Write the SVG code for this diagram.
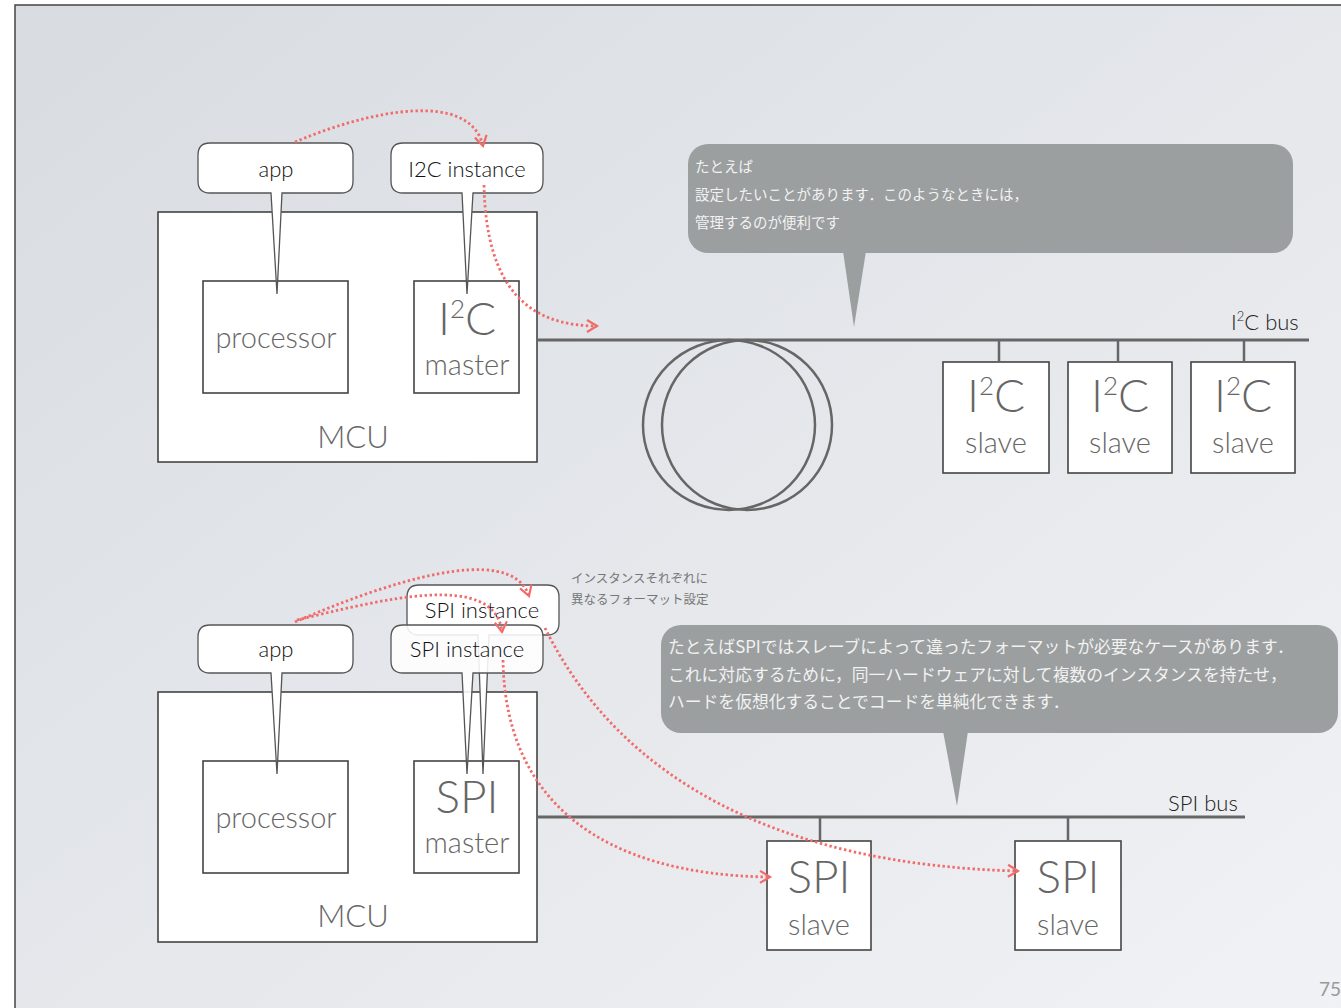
<svg xmlns="http://www.w3.org/2000/svg" width="1341" height="1008" viewBox="0 0 1341 1008">
<defs>
<linearGradient id="bg" x1="0" y1="0" x2="1" y2="1">
<stop offset="0" stop-color="#d8dce1"/>
<stop offset="1" stop-color="#f1f2f5"/>
</linearGradient>
<marker id="ah" markerUnits="userSpaceOnUse" markerWidth="16" markerHeight="16" refX="12" refY="8" orient="auto">
<path d="M2,2 L12,8 L2,14" fill="none" stroke="#f26b6b" stroke-width="2.2"/>
</marker>
<style>
.box{fill:#fff;stroke:#444;stroke-width:1.6}
.call{fill:#fff;stroke:#555;stroke-width:1.3}
.gcall{fill:#9b9fa0}
.bus{stroke:#666;stroke-width:3;fill:none}
.drop{stroke:#666;stroke-width:2.5;fill:none}
.big{font-family:Lato,"Open Sans",sans-serif;font-weight:300;fill:#666;text-anchor:middle}
.lbl{font-family:Lato,"Open Sans",sans-serif;font-weight:300;fill:#111;text-anchor:middle;font-size:22px}
.jp{font-family:"Noto Sans CJK JP",sans-serif;fill:#f2f2f2}
.red{fill:none;stroke:#f26b6b;stroke-width:2.8;stroke-dasharray:2.4 2.6}
</style>
</defs>
<rect x="0" y="0" width="1341" height="1008" fill="#fff"/>
<rect x="15" y="5" width="1340" height="1020" fill="url(#bg)" stroke="#444" stroke-width="1.5"/>

<!-- TOP SECTION -->
<g id="mcu1">
<rect class="box" x="158" y="212" width="379" height="250"/>
<text class="big" x="353" y="448" font-size="31">MCU</text>
</g>
<g id="processor1">
<rect class="box" x="203" y="281" width="145" height="112"/>
<text class="big" x="276" y="348" font-size="29">processor</text>
</g>
<g id="i2cmaster">
<rect class="box" x="414" y="281" width="105" height="112"/>
<text class="big" x="467" y="335" font-size="46">I<tspan font-size="26" dy="-17">2</tspan><tspan dy="17">C</tspan></text>
<text class="big" x="467" y="375" font-size="29">master</text>
</g>
<g id="app1">
<path class="call" d="M210,143 H341 Q353,143 353,155 V181 Q353,193 341,193 H282 L277,294 L271,193 H210 Q198,193 198,181 V155 Q198,143 210,143 Z"/>
<text class="lbl" x="276" y="177">app</text>
</g>
<g id="i2cinstance">
<path class="call" d="M403,143 H531 Q543,143 543,155 V181 Q543,193 531,193 H473 L467,294 L462,193 H403 Q391,193 391,181 V155 Q391,143 403,143 Z"/>
<text class="lbl" x="467" y="177">I2C instance</text>
</g>
<g id="note1">
<rect class="gcall" x="688" y="144" width="605" height="109" rx="20"/>
<path class="gcall" d="M843,251 L866,251 L854,327 Z"/>
<text class="jp" x="695" y="172" font-size="14.5">たとえば</text>
<text class="jp" x="695" y="200" font-size="14.5">設定したいことがあります．このようなときには，</text>
<text class="jp" x="695" y="228" font-size="14.5">管理するのが便利です</text>
</g>
<g id="loop">
<ellipse cx="729" cy="425" rx="86" ry="85" fill="none" stroke="#666" stroke-width="2.5"/>
<ellipse cx="747" cy="425" rx="85" ry="85" fill="none" stroke="#666" stroke-width="2.5"/>
</g>
<g id="i2cslave1">
<rect class="box" x="943" y="362" width="106" height="111"/>
<text class="big" x="996" y="412" font-size="46">I<tspan font-size="26" dy="-17">2</tspan><tspan dy="17">C</tspan></text>
<text class="big" x="996" y="453" font-size="29">slave</text>
</g>
<g id="i2cslave2">
<rect class="box" x="1068" y="362" width="104" height="111"/>
<text class="big" x="1120" y="412" font-size="46">I<tspan font-size="26" dy="-17">2</tspan><tspan dy="17">C</tspan></text>
<text class="big" x="1120" y="453" font-size="29">slave</text>
</g>
<g id="i2cslave3">
<rect class="box" x="1191" y="362" width="104" height="111"/>
<text class="big" x="1243" y="412" font-size="46">I<tspan font-size="26" dy="-17">2</tspan><tspan dy="17">C</tspan></text>
<text class="big" x="1243" y="453" font-size="29">slave</text>
</g>
<g id="i2cbuslabel">
<text x="1231" y="330" font-family="Lato,'Open Sans',sans-serif" font-weight="300" font-size="22" fill="#222">I<tspan font-size="13" dy="-9">2</tspan><tspan dy="9">C bus</tspan></text>
</g>

<!-- BOTTOM SECTION -->
<g id="mcu2">
<rect class="box" x="158" y="692" width="379" height="250"/>
<text class="big" x="353" y="927" font-size="31">MCU</text>
</g>
<g id="processor2">
<rect class="box" x="203" y="761" width="145" height="112"/>
<text class="big" x="276" y="828" font-size="29">processor</text>
</g>
<g id="spimaster">
<rect class="box" x="414" y="761" width="105" height="112"/>
<text class="big" x="467" y="813" font-size="46">SPI</text>
<text class="big" x="467" y="853" font-size="29">master</text>
</g>
<g id="app2">
<path class="call" d="M210,625 H341 Q353,625 353,637 V661 Q353,673 341,673 H282 L277,774 L271,673 H210 Q198,673 198,661 V637 Q198,625 210,625 Z"/>
<text class="lbl" x="276" y="657">app</text>
</g>
<g id="spiinstance2">
<path class="call" d="M419,585 H547 Q559,585 559,597 V623 Q559,635 547,635 H489 L483,774 L478,635 H419 Q407,635 407,623 V597 Q407,585 419,585 Z"/>
<text class="lbl" x="482" y="618">SPI instance</text>
</g>
<g id="spiinstance1">
<path class="call" fill-opacity="0.88" d="M403,625 H531 Q543,625 543,637 V661 Q543,673 531,673 H473 L467,774 L462,673 H403 Q391,673 391,661 V637 Q391,625 403,625 Z"/>
<text class="lbl" x="467" y="657">SPI instance</text>
</g>
<g id="annot">
<text x="571" y="583" font-family="'Noto Sans CJK JP',sans-serif" font-size="12.5" fill="#777">インスタンスそれぞれに</text>
<text x="571" y="604" font-family="'Noto Sans CJK JP',sans-serif" font-size="12.5" fill="#777">異なるフォーマット設定</text>
</g>
<g id="note2">
<rect class="gcall" x="661" y="625" width="677" height="108" rx="20"/>
<path class="gcall" d="M943,731 L968,731 L957,806 Z"/>
<text class="jp" x="668" y="653" font-size="16.8">たとえばSPIではスレーブによって違ったフォーマットが必要なケースがあります．</text>
<text class="jp" x="668" y="681" font-size="16.8">これに対応するために，同一ハードウェアに対して複数のインスタンスを持たせ，</text>
<text class="jp" x="668" y="708" font-size="16.8">ハードを仮想化することでコードを単純化できます．</text>
</g>
<g id="spislave1">
<rect class="box" x="767" y="841" width="104" height="109"/>
<text class="big" x="819" y="893" font-size="46">SPI</text>
<text class="big" x="819" y="935" font-size="29">slave</text>
</g>
<g id="spislave2">
<rect class="box" x="1015" y="841" width="106" height="109"/>
<text class="big" x="1068" y="893" font-size="46">SPI</text>
<text class="big" x="1068" y="935" font-size="29">slave</text>
</g>
<g id="spibuslabel">
<text x="1168" y="811" font-family="Lato,'Open Sans',sans-serif" font-weight="300" font-size="22" fill="#222">SPI bus</text>
</g>
<g id="pagenum">
<text x="1319" y="996" font-family="Lato,'Open Sans',sans-serif" font-size="19" fill="#999">75</text>
</g>

<!-- CONNECTORS -->
<g id="connectors">
<path class="bus" d="M537,340 H1309"/>
<path class="drop" d="M999,340 V361 M1118,340 V361 M1244,340 V361"/>
<path class="bus" d="M537,817 H1245"/>
<path class="drop" d="M820,817 V841 M1068,817 V841"/>
<path class="red" marker-end="url(#ah)" d="M295,142 C370,110 470,90 483,146"/>
<path class="red" marker-end="url(#ah)" d="M484,185 C486,290 530,326 597,326"/>
<path class="red" marker-end="url(#ah)" d="M295,622 C380,585 510,540 529,596"/>
<path class="red" marker-end="url(#ah)" d="M297,620 C380,600 495,570 502,632"/>
<path class="red" marker-end="url(#ah)" d="M503,660 C505,800 600,875 770,877"/>
<path class="red" marker-end="url(#ah)" d="M545,628 C620,780 780,865 1018,871"/>
</g>
</svg>
